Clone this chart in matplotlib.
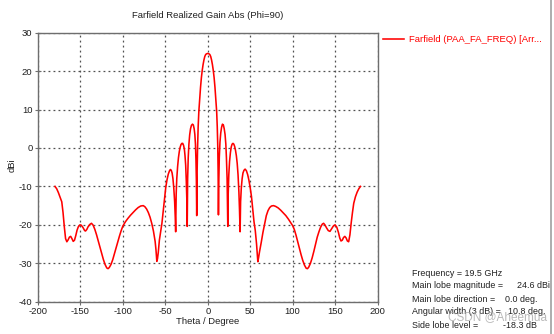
import matplotlib
matplotlib.use("Agg")
import matplotlib.pyplot as plt
from matplotlib.lines import Line2D

# far-field cut, Phi = 90
theta = [
    -180, -178, -176, -174, -172, -170.5, -169, -167.5, -166, -164.5,
    -163, -161.5, -160, -158.5, -157, -155.5, -154, -152.5, -150.5, -149,
    -147, -145, -144, -142.5, -141, -139, -137, -135, -133, -131,
    -129, -127, -125, -123, -121, -119, -117.5, -116, -114, -112,
    -110, -108, -106, -104, -102, -100, -97, -94, -91, -88,
    -85, -82, -79, -76, -74, -72, -70, -68, -66, -64,
    -62, -61, -60, -59.2, -58.3, -57, -55.5, -54, -52.5, -51,
    -49.5, -48, -46.5, -45, -44, -43, -42, -41, -40, -39,
    -38.3, -37.8, -37.2, -36.5, -35.5, -34.5, -33.5, -32.5, -31.5, -30.5,
    -29.5, -28.5, -27.5, -26.8, -26, -25.3, -24.7, -24.2, -23.7, -23,
    -22.2, -21.3, -20.3, -19.2, -18, -17, -16, -15.2, -14.5, -13.9,
    -13.4, -13, -12.5, -12, -11.3, -10.5, -9.5, -8.5, -7.5, -6.5,
    -5.5, -4.5, -3.5, -2.5, -1.5, 0, 1.5, 2.5, 3.5, 4.5,
    5.5, 6.5, 7.5, 8.5, 9.5, 10.5, 11.2, 11.8, 12.2, 12.6,
    13.1, 13.6, 14.4, 15.3, 16.3, 17.3, 18.4, 19.4, 20.4, 21.3,
    22, 22.8, 23.6, 24.1, 24.8, 25.7, 26.7, 27.7, 28.7, 29.7,
    30.7, 31.7, 32.7, 33.7, 34.7, 35.7, 36.7, 37.4, 38.1, 38.7,
    39.5, 40.5, 41.5, 42.7, 44, 45.5, 47, 48.5, 50, 51.5,
    53, 54.5, 56, 57.5, 58.3, 59, 60, 61, 63, 65,
    67, 69, 71, 73, 75, 77.5, 80, 83, 86, 89,
    92, 95, 98, 100, 102, 104, 106, 108, 110, 112,
    114, 116, 117.5, 119, 121, 123, 125, 127, 129, 131,
    133, 135, 136.5, 138, 140, 142, 144, 146, 148, 150,
    152, 154, 155.5, 157, 158.5, 160, 161.5, 163, 164.5, 166,
    167.5, 169, 170.5, 172, 174, 176, 178, 180,
]
gain = [
    -10.0, -10.6, -11.6, -12.8, -14.0, -16.8, -20.5, -23.6, -24.4, -23.9,
    -23.2, -23.0, -23.6, -24.3, -24.0, -22.8, -21.4, -20.5, -20.0, -20.1,
    -20.7, -21.5, -21.6, -21.2, -20.5, -19.9, -19.6, -20.1, -21.2, -22.6,
    -24.2, -25.8, -27.5, -29.0, -30.3, -31.2, -31.4, -31.1, -30.3, -29.1,
    -27.6, -26.0, -24.4, -22.9, -21.5, -20.3, -19.2, -18.3, -17.5, -16.8,
    -16.1, -15.5, -15.1, -15.0, -15.3, -15.9, -16.8, -18.0, -19.6, -21.6,
    -24.3, -26.5, -29.5, -28.8, -27.2, -24.0, -21.8, -19.6, -16.5, -13.2,
    -10.3, -8.3, -6.8, -5.9, -5.6, -5.8, -6.5, -8.0, -10.5, -14.0,
    -18.0, -21.8, -12.0, -8.0, -4.8, -2.5, -0.9, 0.2, 0.9, 1.2,
    1.2, 0.7, -0.4, -2.0, -4.5, -8.5, -13.0, -20.4, -8.0, -2.5,
    1.0, 3.4, 5.0, 5.9, 6.2, 6.0, 5.0, 3.5, 1.0, -3.0,
    -8.5, -17.6, -6.0, 0.0, 5.5, 9.5, 12.8, 15.8, 18.3, 20.2,
    21.7, 22.9, 23.8, 24.3, 24.5, 24.6, 24.5, 24.3, 23.8, 22.9,
    21.7, 20.2, 18.3, 15.8, 12.8, 9.5, 5.5, 0.5, -6.0, -17.4,
    -8.0, -2.5, 1.5, 3.9, 5.4, 6.2, 6.0, 5.0, 3.5, 1.0,
    -2.5, -8.0, -20.4, -12.0, -7.0, -3.5, -1.2, 0.3, 1.0, 1.2,
    1.0, 0.4, -0.6, -2.0, -4.0, -7.0, -11.5, -16.0, -21.8, -14.0,
    -10.5, -8.0, -6.5, -5.8, -5.5, -5.9, -6.9, -8.4, -10.3, -12.6,
    -15.8, -19.2, -21.5, -25.0, -27.5, -29.6, -28.4, -27.0, -24.6, -22.0,
    -19.8, -17.6, -16.3, -15.5, -15.1, -15.0, -15.2, -15.6, -16.2, -16.9,
    -17.6, -18.5, -19.5, -20.2, -21.2, -22.7, -24.4, -26.1, -27.8, -29.3,
    -30.5, -31.3, -31.4, -31.0, -30.0, -28.6, -26.9, -25.0, -23.2, -21.8,
    -20.6, -19.8, -19.6, -20.0, -20.8, -21.5, -21.7, -21.0, -20.3, -20.0,
    -20.6, -22.0, -23.4, -24.2, -24.0, -23.3, -23.0, -23.4, -24.2, -24.4,
    -22.6, -19.5, -16.8, -14.4, -12.7, -11.5, -10.6, -10.0,
]

x_ticks = [-200, -150, -100, -50, 0, 50, 100, 150, 200]
y_ticks = [-40, -30, -20, -10, 0, 10, 20, 30]

info_labels = ["Frequency = 19.5 GHz", "Main lobe magnitude =", "Main lobe direction =",
               "Angular width (3 dB) =", "Side lobe level ="]
info_values = ["", "24.6 dBi", "0.0 deg.", "10.8 deg.", "-18.3 dB"]
info_value_x = [0, 517, 505, 508, 503]
info_y = [273, 286, 299, 312, 325]

plt.rcParams["font.family"] = ["Liberation Sans", "DejaVu Sans"]
plt.rcParams["axes.unicode_minus"] = False

W, H = 554, 334
fig = plt.figure(figsize=(W / 100, H / 100), dpi=100)
ax = fig.add_axes([38 / W, 1 - 301.7 / H, 339.5 / W, 269 / H])

line, = ax.plot(theta, gain, color="#ff0000", lw=1.15, label="Farfield (PAA_FA_FREQ) [Arr...")

ax.set_xlim(-200, 200)
ax.set_ylim(-40, 30)
ax.set_xticks(x_ticks)
ax.set_yticks(y_ticks)
ax.grid(True, linestyle=(0, (1.5, 2.5)), color="#505050", lw=0.9)
for s in ax.spines.values():
    s.set_color("#6e6e6e")
    s.set_linewidth(1.0)
ax.tick_params(direction="inout", length=4, width=0.8, color="#6e6e6e",
               labelsize=6.8, pad=2, labelcolor="#202020")

fig.text(207.7 / W, 1 - 16 / H, "Farfield Realized Gain Abs (Phi=90)",
         ha="center", va="center", fontsize=6.8, color="#202020")
fig.text(207.7 / W, 1 - 322 / H, "Theta / Degree",
         ha="center", va="center", fontsize=6.8, color="#202020")
fig.text(12 / W, 1 - 165 / H, "dBi", rotation=90,
         ha="center", va="center", fontsize=6.8, color="#202020")

fig.legend(handles=[line], loc="center left", bbox_to_anchor=(383 / W, 1 - 40 / H),
           frameon=False, fontsize=6.8, labelcolor="#ff0000",
           handlelength=2.2, handletextpad=0.6, borderpad=0, borderaxespad=0)

# summary block under the legend
for lab, val, vx, vy in zip(info_labels, info_values, info_value_x, info_y):
    fig.text(412 / W, 1 - vy / H, lab, ha="left", va="center", fontsize=6.4, color="#202020")
    if val:
        fig.text(vx / W, 1 - vy / H, val, ha="left", va="center", fontsize=6.4, color="#202020")

fig.text(497 / W, 1 - 317 / H, "CSDN @Aheemua", ha="center", va="center",
         fontsize=8.5, color="#a8a8a8", alpha=0.8)

fig.add_artist(Line2D([551 / W, 551 / W], [0, 1], color="#a0a0a0", lw=1.2))

fig.savefig("out.png", dpi=100)
